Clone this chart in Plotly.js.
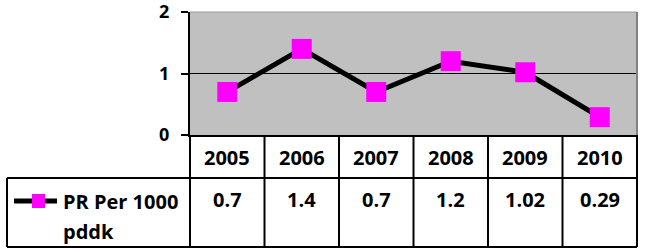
<!DOCTYPE html>
<html>
<head>
<meta charset="utf-8">
<script src="https://cdn.plot.ly/plotly-3.0.1.min.js"></script>
<style>html,body{margin:0;padding:0;background:#fff;}#chart{width:648px;height:250px;}</style>
</head>
<body>
<div id="chart"></div>
<script>
const years = ['2005', '2006', '2007', '2008', '2009', '2010'];
const prValues = [0.7, 1.4, 0.7, 1.2, 1.02, 0.29];
const valueLabels = ['0.7', '1.4', '0.7', '1.2', '1.02', '0.29'];
const seriesName = 'PR Per 1000 pddk';
const yTicks = [0, 1, 2];

const FONT = 'Open Sans, Lato, sans-serif';
const W = 648, H = 250;
const L = 190, R = 637, T = 12, B = 135;
const pw = R - L, ph = B - T;
const px = v => (v - L) / pw;      // pixel x -> paper
const py = v => (B - v) / ph;      // pixel y -> paper

const rowTop = py(178), rowBot = py(247), legLeft = px(7);
const lineC = '#000';

const shapes = [
  {type:'line', xref:'paper', yref:'paper', x0:0, x1:1, y0:1, y1:1, line:{color:'#9a9a9a', width:1}},
  {type:'line', xref:'paper', yref:'paper', x0:1, x1:1, y0:0, y1:1, line:{color:'#808080', width:2}},
  {type:'line', xref:'paper', yref:'paper', x0:legLeft, x1:1, y0:rowTop, y1:rowTop, line:{color:lineC, width:2}},
  {type:'line', xref:'paper', yref:'paper', x0:legLeft, x1:1, y0:rowBot, y1:rowBot, line:{color:lineC, width:2}},
  {type:'line', xref:'paper', yref:'paper', x0:legLeft, x1:legLeft, y0:rowTop, y1:rowBot, line:{color:lineC, width:2}},
  {type:'line', xref:'paper', yref:'paper', x0:0, x1:0, y0:0, y1:rowBot, line:{color:lineC, width:2}},
  {type:'line', xref:'paper', yref:'paper', x0:1, x1:1, y0:0, y1:rowBot, line:{color:lineC, width:2}},
  {type:'line', xref:'paper', yref:'paper', x0:px(14), x1:px(57), y0:py(201), y1:py(201), line:{color:'#000', width:5}},
  {type:'rect', xref:'paper', yref:'paper', x0:px(32), x1:px(45), y0:py(194), y1:py(208), fillcolor:'#ff00ff', line:{width:0}}
];
for (let i = 0; i < years.length - 1; i++) {
  shapes.push({type:'line', xref:'x', yref:'paper', x0:i + 0.5, x1:i + 0.5, y0:0, y1:rowBot, line:{color:lineC, width:2}});
}

const tf = {family:FONT, size:20, color:'#000', weight:'bold'};
const annotations = [];
years.forEach((yr, i) => {
  annotations.push({xref:'x', yref:'paper', x:i, y:py(157), text:yr, showarrow:false,
    xanchor:'center', yanchor:'middle', font:tf});
  annotations.push({xref:'x', yref:'paper', x:i, y:py(200), text:valueLabels[i], showarrow:false,
    xanchor:'center', yanchor:'middle', font:tf});
});
const nameParts = seriesName.match(/^(.*) (\S+)$/);
annotations.push({xref:'paper', yref:'paper', x:px(61), y:py(201), text:nameParts[1], showarrow:false,
  xanchor:'left', yanchor:'middle', font:tf});
annotations.push({xref:'paper', yref:'paper', x:px(61), y:py(231), text:nameParts[2], showarrow:false,
  xanchor:'left', yanchor:'middle', font:tf});

const trace = {
  type:'scatter', mode:'lines+markers', name:seriesName,
  x:years, y:prValues,
  line:{color:'#000', width:5},
  marker:{symbol:'square', size:20, color:'#ff00ff', line:{width:0}},
  cliponaxis:false
};

const layout = {
  width:W, height:H,
  margin:{l:L, r:W - R, t:T, b:H - B, pad:0},
  paper_bgcolor:'#fff', plot_bgcolor:'#c0c0c0',
  showlegend:false,
  xaxis:{type:'category', range:[-0.5, years.length - 0.5], showticklabels:false, ticks:'',
    showgrid:false, zeroline:false, showline:true, linecolor:'#000', linewidth:2, fixedrange:true},
  yaxis:{range:[0, 2], tickvals:yTicks, ticktext:yTicks.map(String), ticks:'outside', ticklen:7, tickwidth:2,
    tickcolor:'#000', showline:true, linecolor:'#000', linewidth:2, showgrid:true, gridcolor:'#000', gridwidth:1.5,
    zeroline:false, ticklabelstandoff:8, ticklabeloverflow:'allow',
    tickfont:{family:FONT, size:18, color:'#000', weight:'bold'}, fixedrange:true},
  shapes:shapes,
  annotations:annotations
};

Plotly.newPlot('chart', [trace], layout, {displayModeBar:false, staticPlot:true});
</script>
</body>
</html>
